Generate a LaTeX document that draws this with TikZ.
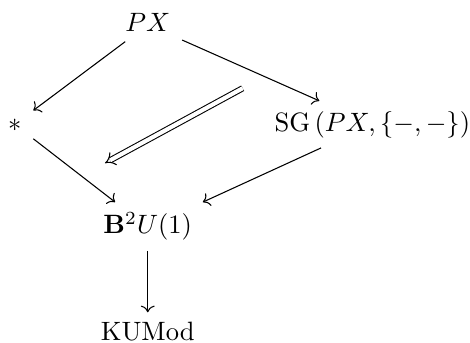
\documentclass[tikz,border=0pt]{standalone}
\usetikzlibrary{cd}

\begin{document}
\begin{tikzpicture}[x=0.885cm,y=0.885cm,
  obj/.style={anchor=base,shape=asymmetrical rectangle,inner xsep=1ex,inner ysep=0.85ex},
  arr/.style={-{tikzcd to},line width=0.4pt},
  twocell/.style={double equal sign distance,-{tikzcd implies},line width=0.4pt}]
\path[use as bounding box] (0,0) rectangle (7.03,5.13);
\node[obj] (px) at (2.21,4.66) {$PX$};
\node[obj] (pt) at (0.22,3.17) {$*$};
\node[obj] (sg) at (5.57,3.17) {$\mathrm{SG}\left(PX,\{-,-\}\right)$};
\node[obj] (bu) at (2.21,1.63) {$\mathbf{B}^2U(1)$};
\node[obj] (ku) at (2.21,0.03) {$\mathrm{KUMod}$};
\draw[arr] (px) -- (pt);
\draw[arr] (px) -- (sg);
\draw[arr] (pt) -- (bu);
\draw[arr] (sg) -- (bu);
\draw[arr] (bu) -- (ku);
\coordinate (a) at (3.63,3.81);
\coordinate (b) at (1.57,2.69);
\draw[twocell] (a) -- (b);
\end{tikzpicture}
\end{document}
